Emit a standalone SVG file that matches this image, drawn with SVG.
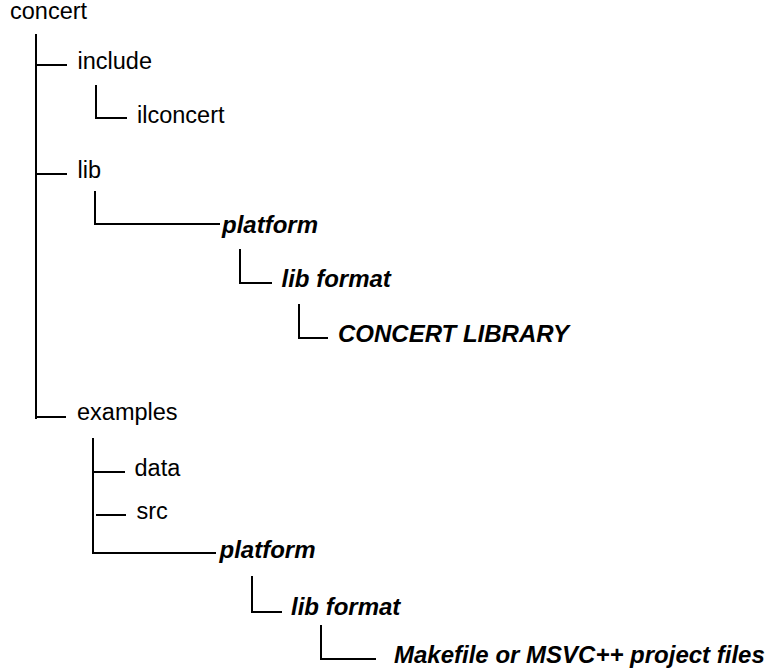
<svg xmlns="http://www.w3.org/2000/svg" width="766" height="670" viewBox="0 0 766 670">
<style>
.t{font-family:"Liberation Sans",Arial,Helvetica,sans-serif;font-size:23.5px;fill:#000}
.b{font-weight:bold;font-style:italic;font-size:24px}
.c{stroke:#000;stroke-width:2;fill:none}
</style>
<rect width="766" height="670" fill="#fff"/>
<g id="connectors" class="c">
<path d="M36,34V419"/>
<path d="M36,65H67"/>
<path d="M96,85V118H127"/>
<path d="M36,174H67"/>
<path d="M95,191V224H220"/>
<path d="M240,249V283H272"/>
<path d="M299,304V338H328"/>
<path d="M36,417H66"/>
<path d="M93,438V553H216"/>
<path d="M93,472H125"/>
<path d="M96,515H126"/>
<path d="M252,576V612H282"/>
<path d="M321,625V659H376"/>
</g>
<g id="n-concert"><text class="t" x="10" y="19">concert</text></g>
<g id="n-include"><text class="t" x="77.5" y="69">include</text></g>
<g id="n-ilconcert"><text class="t" x="137" y="123">ilconcert</text></g>
<g id="n-lib"><text class="t" x="77.5" y="178">lib</text></g>
<g id="n-lib-platform"><text class="t b" x="222" y="233">platform</text></g>
<g id="n-lib-format"><text class="t b" x="281.5" y="287">lib format</text></g>
<g id="n-library"><text class="t b" x="338" y="342">CONCERT LIBRARY</text></g>
<g id="n-examples"><text class="t" x="77" y="420">examples</text></g>
<g id="n-data"><text class="t" x="134.5" y="476">data</text></g>
<g id="n-src"><text class="t" x="136.5" y="519">src</text></g>
<g id="n-ex-platform"><text class="t b" x="219.5" y="558">platform</text></g>
<g id="n-ex-format"><text class="t b" x="291" y="615">lib format</text></g>
<g id="n-makefile"><text class="t b" x="394" y="663">Makefile or MSVC++ project files</text></g>
</svg>
